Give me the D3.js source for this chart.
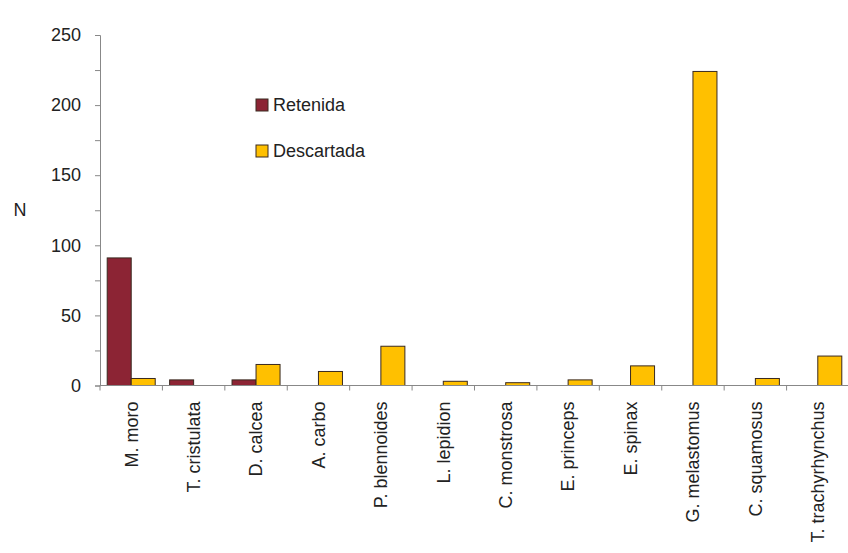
<!DOCTYPE html>
<html><head><meta charset="utf-8">
<script src="https://cdn.jsdelivr.net/npm/d3@7/dist/d3.min.js"></script>
<style>body{margin:0;background:#fff}svg{display:block}text{font-family:"Liberation Sans",Arial,sans-serif;fill:#222}</style>
</head><body>
<svg id="c" width="848" height="553"></svg>
<script>
const categories = ["M. moro","T. cristulata","D. calcea","A. carbo","P. blennoides","L. lepidion","C. monstrosa","E. princeps","E. spinax","G. melastomus","C. squamosus","T. trachyrhynchus"];
const seriesNames = ["Retenida","Descartada"];
const retenida = [91,4,4,0,0,0,0,0,0,0,0,0];
const descartada = [5,0,15,10,28,3,2,4,14,224,5,21];
const yTicks = [0,50,100,150,200,250];
const colors = ["#8c2434","#ffc000"];

const svg = d3.select("#c");
const x0 = 100, x1 = 849, yb = 385.5, yt = 35;
const x = d3.scaleBand().domain(categories).range([x0,x1]).paddingInner(0).paddingOuter(0);
const xs = d3.scaleBand().domain(seriesNames).range([0,x.bandwidth()]).paddingInner(0).paddingOuter(0.3);
const y = d3.scaleLinear().domain([0,250]).range([yb,yt]);

// bars
const data = [retenida, descartada];
seriesNames.forEach((s,si)=>{
  svg.append("g").selectAll("rect").data(categories).join("rect")
    .filter((d,i)=>data[si][i]>0)
    .attr("x",d=>x(d)+xs(s))
    .attr("width",xs.bandwidth())
    .attr("y",(d)=>y(data[si][categories.indexOf(d)]))
    .attr("height",(d)=>yb-y(data[si][categories.indexOf(d)]))
    .attr("fill",colors[si]).attr("stroke","#3a2a20").attr("stroke-width",1);
});

// y axis
const ya = svg.append("g").attr("transform",`translate(${x0},0)`)
  .call(d3.axisLeft(y).tickValues(d3.range(0,251,25)).tickSize(5).tickFormat(d=>yTicks.includes(d)?d:""));
ya.select(".domain").attr("stroke","#888");
ya.selectAll(".tick line").attr("stroke","#888");
ya.selectAll(".tick text").attr("font-size",18).attr("x",-19).attr("fill","#333").style("font-family","Liberation Sans, Arial, sans-serif");

// x axis
const xa = svg.append("g").attr("transform",`translate(0,${yb})`);
xa.append("line").attr("x1",x0).attr("x2",x1).attr("stroke","#888");
xa.selectAll("line.t").data(categories.concat([null])).join("line").attr("class","t")
  .attr("x1",(d,i)=>i<categories.length?x(d):x1).attr("x2",(d,i)=>i<categories.length?x(d):x1)
  .attr("y1",0).attr("y2",5).attr("stroke","#888");
xa.selectAll("text").data(categories).join("text")
  .attr("transform",d=>`translate(${x(d)+x.bandwidth()/2},16) rotate(-90)`)
  .attr("text-anchor","end").attr("dy","0.35em").attr("font-size",18).attr("fill","#333")
  .text(d=>d);

// y title
svg.append("text").attr("x",20).attr("y",216).attr("text-anchor","middle").attr("font-size",18).attr("fill","#333").text("N");

// legend
const lg = svg.append("g");
seriesNames.forEach((s,i)=>{
  const cy = 105 + i*46;
  lg.append("rect").attr("x",256).attr("y",cy-6).attr("width",12).attr("height",12).attr("fill",colors[i]).attr("stroke","#3a2a20");
  lg.append("text").attr("x",273).attr("y",cy).attr("dy","0.35em").attr("font-size",18).attr("fill","#222").text(s);
});
</script>
</body></html>
